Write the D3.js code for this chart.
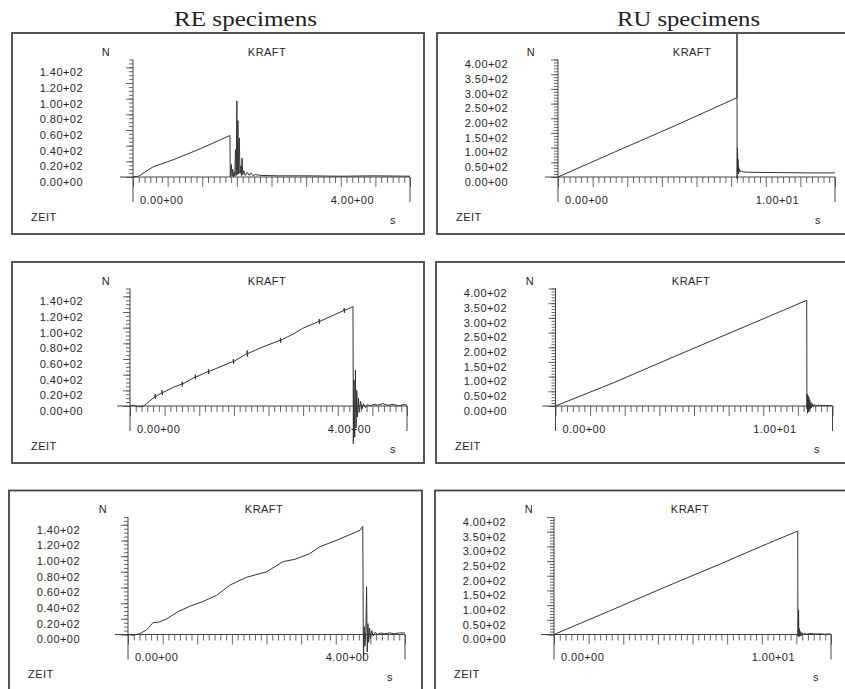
<!DOCTYPE html>
<html>
<head>
<meta charset="utf-8">
<script src="https://cdn.jsdelivr.net/npm/d3@7"></script>
<style>
  body { margin: 0; background: #fff; }
  svg { display: block; }
  text { font-family: "Liberation Sans", Arial, sans-serif; fill: #262626; }
  .lbl { font-size: 11px; letter-spacing: 0.45px; }
  .title { font-family: "Liberation Serif", "Times New Roman", serif; font-size: 21px; fill: #222; }
</style>
</head>
<body>
<svg width="845" height="689"></svg>
<script>
// force traces (time in s, force in N)

// RE specimens
const reTime1 = [0, 0.08, 0.29, 0.58, 0.97, 1.40, 1.405, 1.42, 1.43, 1.44, 1.45, 1.46, 1.47, 1.48, 1.49, 1.50, 1.505, 1.515, 1.525, 1.535, 1.545, 1.555, 1.565, 1.575, 1.585, 1.60, 1.62, 1.65, 1.68, 1.70, 1.73, 1.77, 1.85, 2.1, 2.5, 3.0, 3.5, 4.0]
const reForce1 = [0, 1, 13, 22, 36, 53, 0, 16, 1, 10, 0, 6, 1, 35, 2, 97, 3, 72, 4, 50, 5, 14, 2, 24, 3, 8, 2, 6, 2, 5, 2, 3, 2, 1.5, 1.5, 1, 1.5, 1]

// small glitch marks along the ramp are kept as up/down pairs
const reTime2 = [0, 0.05, 0.12, 0.20, 0.24, 0.36, 0.363, 0.366, 0.37, 0.46, 0.463, 0.466, 0.47, 0.63, 0.75, 0.753, 0.756, 0.76, 0.94, 0.943, 0.946, 0.95, 1.13, 1.133, 1.136, 1.14,
  1.49, 1.493, 1.496, 1.50, 1.69, 1.693, 1.696, 1.70, 1.88, 2.17, 2.173, 2.176, 2.18, 2.36, 2.49, 2.73, 2.733, 2.736, 2.74, 3.09, 3.093, 3.096, 3.10, 3.22,
  3.225, 3.235, 3.245, 3.255, 3.265, 3.275, 3.285, 3.30, 3.31, 3.33, 3.35, 3.37, 3.40, 3.43, 3.47, 3.52, 3.58, 3.65, 3.72, 3.80, 3.88, 3.95, 4.0]
const reForce2 = [0, 1, -1, 0, 3, 12, 15, 9, 12, 17, 20, 14, 17, 24, 28, 31, 25, 28, 37, 40, 34, 37, 44, 47, 41, 44,
  57, 60, 54, 57, 67, 71, 63, 67, 74, 84, 87, 81, 84, 92, 99, 108, 111, 105, 108, 122, 125, 119, 122, 127,
  -48, 33, -40, 46, -28, 20, -14, 10, -8, 6, -4, 3, -2, 2, 0, 2, 1, 3, 1, 2, 0, 2, 1]

const reTime3 = [0, 0.08, 0.17, 0.27, 0.36, 0.45, 0.56, 0.72, 0.89, 1.08, 1.28, 1.47, 1.71, 2.0, 2.24, 2.41, 2.62, 2.77, 3.06, 3.35, 3.39,
  3.40, 3.41, 3.42, 3.435, 3.445, 3.455, 3.465, 3.475, 3.49, 3.50, 3.52, 3.54, 3.57, 3.60, 3.65, 3.70, 3.78, 3.85, 3.92, 4.0]
const reForce3 = [0, -1, 1, 6, 15, 16, 20, 29, 36, 42, 50, 63, 73, 80, 93, 96, 103, 112, 122, 133, 138,
  -33, 10, -15, 5, 61, -22, 14, -10, 8, -5, 5, -2, 3, 0, 2, 1, 2, 1, 2, 2]

// RU specimens
const ruTime1 = [0, 2.0, 4.23, 6.46, 6.462, 6.465, 6.48, 6.49, 6.50, 6.51, 6.52, 6.53, 6.55, 6.58, 6.62, 6.7, 7.0, 8.0, 9.0, 10.0]
const ruForce1 = [0, 83, 175, 270, 520, -5, 100, 20, 60, 10, 35, 15, 27, 18, 20, 17, 16, 15, 14, 14]

const ruTime2 = [0, 2.09, 4.31, 5.88, 7.68, 9.07, 9.075, 9.09, 9.10, 9.12, 9.13, 9.15, 9.16, 9.18, 9.20, 9.22, 9.24, 9.27, 9.30, 9.34, 9.40, 9.5, 9.6, 9.75, 9.9, 10.0]
const ruForce2 = [0, 79, 169, 232, 304, 360, -10, 40, -25, 35, -20, 28, -15, 20, -10, 12, -6, 8, -3, 5, 0, 3, 1, 2, 1, 1]

const ruTime3 = [0, 2.0, 4.0, 6.0, 8.0, 8.80, 8.805, 8.83, 8.84, 8.86, 8.88, 8.90, 8.93, 8.96, 9.0, 9.05, 9.12, 9.2, 9.4, 9.6, 9.8, 10.0]
const ruForce3 = [0, 80, 161, 240, 321, 352, -5, 84, -8, 20, -6, 10, -4, 6, -2, 4, 1, 3, 2, 2, 1, 2]

// axis ticks and labels
const reYTicks = [0, 20, 40, 60, 80, 100, 120, 140]
const reYLabels = ['0.00+00', '0.20+02', '0.40+02', '0.60+02', '0.80+02', '1.00+02', '1.20+02', '1.40+02']
const ruYTicks = [0, 50, 100, 150, 200, 250, 300, 350, 400]
const ruYLabels = ['0.00+00', '0.50+02', '1.00+02', '1.50+02', '2.00+02', '2.50+02', '3.00+02', '3.50+02', '4.00+02']
const reXLabels = ['0.00+00', '4.00+00']
const ruXLabels = ['0.00+00', '1.00+01']
const titles = ['RE specimens', 'RU specimens']

const types = {
  re: { xMax: 4, yMax: 150, yMinor: 5, yTicks: reYTicks, yLabels: reYLabels, xLabels: reXLabels },
  ru: { xMax: 10, yMax: 400, yMinor: 10, yTicks: ruYTicks, yLabels: ruYLabels, xLabels: ruXLabels }
}

const specimens = [
  { type: 're', t: reTime1, f: reForce1 },
  { type: 'ru', t: ruTime1, f: ruForce1 },
  { type: 're', t: reTime2, f: reForce2 },
  { type: 'ru', t: ruTime2, f: ruForce2 },
  { type: 're', t: reTime3, f: reForce3 },
  { type: 'ru', t: ruTime3, f: ruForce3 }
]

// frame left, frame top, frame width, axis offset inside frame
const frames = [
  [12, 33, 412, 121], [437, 33, 412, 121],
  [12, 262, 412, 118], [436, 262, 412, 119.5],
  [9, 490.5, 413, 119], [435, 490.5, 412, 119]
]

const svg = d3.select('svg')

svg.selectAll('text.title')
  .data(titles)
  .enter()
  .append('text')
  .attr('class', 'title')
  .attr('x', (d, i) => i === 0 ? 174 : 617)
  .attr('y', 26)
  .attr('textLength', 143)
  .attr('lengthAdjust', 'spacingAndGlyphs')
  .text(d => d)

const axisW = 277

specimens.forEach((sp, k) => {
  const [fx, fy, fw, dx] = frames[k]
  const ty = types[sp.type]
  const x0 = fx + dx

  const x = d3.scaleLinear().domain([0, ty.xMax]).range([x0, x0 + axisW])
  const y = d3.scaleLinear().domain([0, ty.yMax]).range([fy + 144, fy + 144 - 117.5])

  const g = svg.append('g')

  // frame
  g.append('rect')
    .attr('x', fx).attr('y', fy)
    .attr('width', fw).attr('height', 201)
    .attr('fill', 'none')
    .attr('stroke', '#444')
    .attr('stroke-width', 1.8)

  // y axis ticks (minor + major)
  const yMinor = d3.range(0, ty.yMax + 0.001, ty.yMinor)
  g.append('g')
    .attr('transform', `translate(${x0},0)`)
    .call(d3.axisLeft(y).tickValues(yMinor).tickSize(4).tickFormat(''))
    .call(a => a.select('.domain').remove())
  g.append('g')
    .attr('transform', `translate(${x0},0)`)
    .call(d3.axisLeft(y).tickValues(ty.yTicks).tickSize(7).tickFormat(''))
    .call(a => a.select('.domain').remove())

  // x axis ticks, 8 divisions of 6
  const xMinor = d3.range(49).map(i => i * ty.xMax / 48)
  g.append('g')
    .attr('transform', `translate(0,${y(0)})`)
    .call(d3.axisBottom(x).tickValues(xMinor.filter((d, i) => i % 6)).tickSize(6).tickFormat(''))
    .call(a => a.select('.domain').remove())
  g.append('g')
    .attr('transform', `translate(0,${y(0)})`)
    .call(d3.axisBottom(x).tickValues(xMinor.filter((d, i) => i % 6 === 0)).tickSize(10).tickFormat(''))
    .call(a => a.select('.domain').remove())

  g.selectAll('.tick line').attr('stroke', '#555').attr('stroke-width', 0.9)

  // axis lines
  g.append('line')
    .attr('x1', x(0)).attr('x2', x(0))
    .attr('y1', y(ty.yMax)).attr('y2', fy + 169)
    .attr('stroke', '#444')
  g.append('line')
    .attr('x1', x(0) - 13).attr('x2', x(ty.xMax))
    .attr('y1', y(0)).attr('y2', y(0))
    .attr('stroke', '#444')
  g.append('line')
    .attr('x1', x(ty.xMax)).attr('x2', x(ty.xMax))
    .attr('y1', y(0)).attr('y2', fy + 169)
    .attr('stroke', '#444')

  // y tick labels
  g.selectAll('text.ylab')
    .data(ty.yTicks)
    .enter()
    .append('text')
    .attr('class', 'lbl')
    .attr('x', fx + 71)
    .attr('y', d => y(d) + 5)
    .attr('dy', '0.35em')
    .attr('text-anchor', 'end')
    .text((d, i) => ty.yLabels[i])

  // x labels: start value and end value inside the tall ticks
  g.append('text').attr('class', 'lbl')
    .attr('x', x(0) + 7).attr('y', fy + 167).attr('dy', '0.35em')
    .text(ty.xLabels[0])
  g.append('text').attr('class', 'lbl')
    .attr('x', x(ty.xMax) - 36).attr('y', fy + 167).attr('dy', '0.35em')
    .attr('text-anchor', 'end')
    .text(ty.xLabels[1])

  g.append('text').attr('class', 'lbl')
    .attr('x', fx + 94).attr('y', fy + 19).attr('dy', '0.35em')
    .attr('text-anchor', 'middle').text('N')
  g.append('text').attr('class', 'lbl')
    .attr('x', fx + 255).attr('y', fy + 19).attr('dy', '0.35em')
    .attr('text-anchor', 'middle').text('KRAFT')
  g.append('text').attr('class', 'lbl')
    .attr('x', fx + 19).attr('y', fy + 184).attr('dy', '0.35em')
    .text('ZEIT')
  g.append('text').attr('class', 'lbl')
    .attr('x', fx + 381).attr('y', fy + 187).attr('dy', '0.35em')
    .attr('text-anchor', 'middle').text('s')

  // trace, clipped to the frame
  g.append('clipPath')
    .attr('id', 'clip' + k)
    .append('rect')
    .attr('x', fx + 1).attr('y', fy + 1)
    .attr('width', fw - 2).attr('height', 199)

  const line = d3.line()
    .x(d => x(d[0]))
    .y(d => y(d[1]))

  g.append('path')
    .datum(d3.zip(sp.t, sp.f))
    .attr('clip-path', `url(#clip${k})`)
    .attr('d', line)
    .attr('fill', 'none')
    .attr('stroke', '#333')
    .attr('stroke-width', 1)
})
</script>
</body>
</html>
